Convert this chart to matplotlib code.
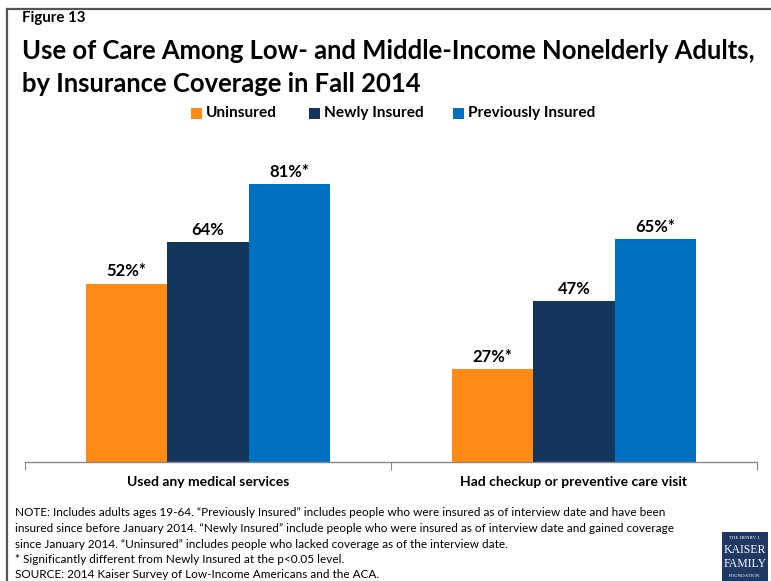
import matplotlib
matplotlib.use("Agg")
import matplotlib.pyplot as plt
from matplotlib.patches import Rectangle
from matplotlib.lines import Line2D
import numpy as np

categories = ["Used any medical services", "Had checkup or preventive care visit"]
series_names = ["Uninsured", "Newly Insured", "Previously Insured"]
uninsured = [52, 27]
newly_insured = [64, 47]
previously_insured = [81, 65]
significant = [[True, True], [False, False], [True, True]]
colors = ["#FF8A15", "#15365C", "#0070C0"]

figure_label = "Figure 13"
title_lines = ["Use of Care Among Low- and Middle-Income Nonelderly Adults,",
               "by Insurance Coverage in Fall 2014"]
notes = [
    "NOTE: Includes adults ages 19-64. \u201cPreviously Insured\u201d includes people who were insured as of interview date and have been",
    "insured since before January 2014. \u201cNewly Insured\u201d include people who were insured as of interview date and gained coverage",
    "since January 2014. \u201cUninsured\u201d includes people who lacked coverage as of the interview date.",
    "* Significantly different from Newly Insured at the p<0.05 level.",
    "SOURCE: 2014 Kaiser Survey of Low-Income Americans and the ACA.",
]

W, H = 771, 581
fig = plt.figure(figsize=(W / 100, H / 100), dpi=100)
fig.patch.set_facecolor("white")
renderer = fig.canvas.get_renderer()


def fx(px):
    return px / W


def fy(py):
    return 1 - py / H


def fit_width(t, width_px):
    """Scale a text's font size so that it spans the given pixel width."""
    w = t.get_window_extent(renderer).width
    t.set_fontsize(t.get_fontsize() * width_px / w)
    return t.get_fontsize()


FONT = "Lato"

# outer frame (top and left edges)
fig.add_artist(Line2D([fx(7), fx(771)], [fy(9), fy(9)], color="#555555", lw=1.6))
fig.add_artist(Line2D([fx(7), fx(7)], [fy(9), fy(581)], color="#555555", lw=1.6))

# heading
t = fig.text(fx(22), fy(18), figure_label, fontsize=10.5, fontweight="bold",
             family=FONT, va="center", ha="left")
fit_width(t, 64)
t1 = fig.text(fx(22), fy(51), title_lines[0], fontsize=18, fontweight="bold",
              family=FONT, va="center", ha="left")
size = fit_width(t1, 735)
fig.text(fx(22), fy(84), title_lines[1], fontsize=size, fontweight="bold",
         family=FONT, va="center", ha="left")

# bar chart
ax_top, ax_bot = 150, 462
ax = fig.add_axes([fx(25), fy(ax_bot), fx(757 - 25), (ax_bot - ax_top) / H])
x = np.arange(len(categories))
bw = 0.222
series = [uninsured, newly_insured, previously_insured]
bars = []
for i, (vals, c) in enumerate(zip(series, colors)):
    pos = x + (i - 1) * bw
    b = ax.bar(pos, vals, width=bw, color=c, label=series_names[i])
    bars.append(b)
    for p, v, s in zip(pos, vals, significant[i]):
        ax.annotate(f"{v}%" + ("*" if s else ""), (p, v), xytext=(0, 3),
                    textcoords="offset points", ha="center", va="bottom",
                    fontsize=12, fontweight="bold", family=FONT)

ax.set_xlim(-0.5, 1.5)
ax.set_ylim(0, (ax_bot - ax_top) / 3.43)
for side in ["top", "right", "left"]:
    ax.spines[side].set_visible(False)
ax.spines["bottom"].set_color("#888888")
ax.spines["bottom"].set_linewidth(1)
ax.set_yticks([])
ax.set_xticks([-0.5, 0.5, 1.5])
ax.set_xticklabels([])
ax.tick_params(axis="x", length=6, color="#888888", direction="out")
ax.set_xticks(x, minor=True)
labels = ax.set_xticklabels(categories, minor=True, fontsize=11, fontweight="bold", family=FONT)
ax.tick_params(axis="x", which="minor", length=0, pad=10)
fit_width(labels[0], 162)
labels[1].set_fontsize(labels[0].get_fontsize())

# legend: swatch + label for each series
legend_boxes = [191, 309, 453]
legend_size = None
for name, c, bx in zip(series_names, colors, legend_boxes):
    fig.add_artist(Rectangle((fx(bx), fy(119)), fx(11), 11 / H, transform=fig.transFigure,
                             facecolor=c, edgecolor="none"))
    lt = fig.text(fx(bx + 15), fy(113), name, fontsize=11, fontweight="bold",
                  family=FONT, va="center", ha="left")
    if legend_size is None:
        legend_size = fit_width(lt, 71)
    else:
        lt.set_fontsize(legend_size)

# notes
note_size = None
for k, line in enumerate(notes):
    nt = fig.text(fx(15), fy(513 + k * 15.5), line, fontsize=9, family=FONT,
                  va="center", ha="left")
    if note_size is None:
        note_size = fit_width(nt, 653)
    else:
        nt.set_fontsize(note_size)

# foundation logo
logo = Rectangle((fx(722), fy(581)), fx(46), (581 - 532) / H, transform=fig.transFigure,
                 facecolor="#1F3864", edgecolor="none")
fig.add_artist(logo)
fig.text(fx(745), fy(538), "THE HENRY J.", fontsize=3.5, color="white", family="Liberation Serif",
         ha="center", va="center")
fig.text(fx(745), fy(550), "KAISER", fontsize=8.5, color="white", family="Liberation Serif",
         ha="center", va="center")
fig.text(fx(745), fy(564), "FAMILY", fontsize=8.5, color="white", family="Liberation Serif",
         ha="center", va="center")
fig.text(fx(745), fy(576), "FOUNDATION", fontsize=3.5, color="white", family="Liberation Serif",
         ha="center", va="center")

fig.savefig("out.png", dpi=100)
